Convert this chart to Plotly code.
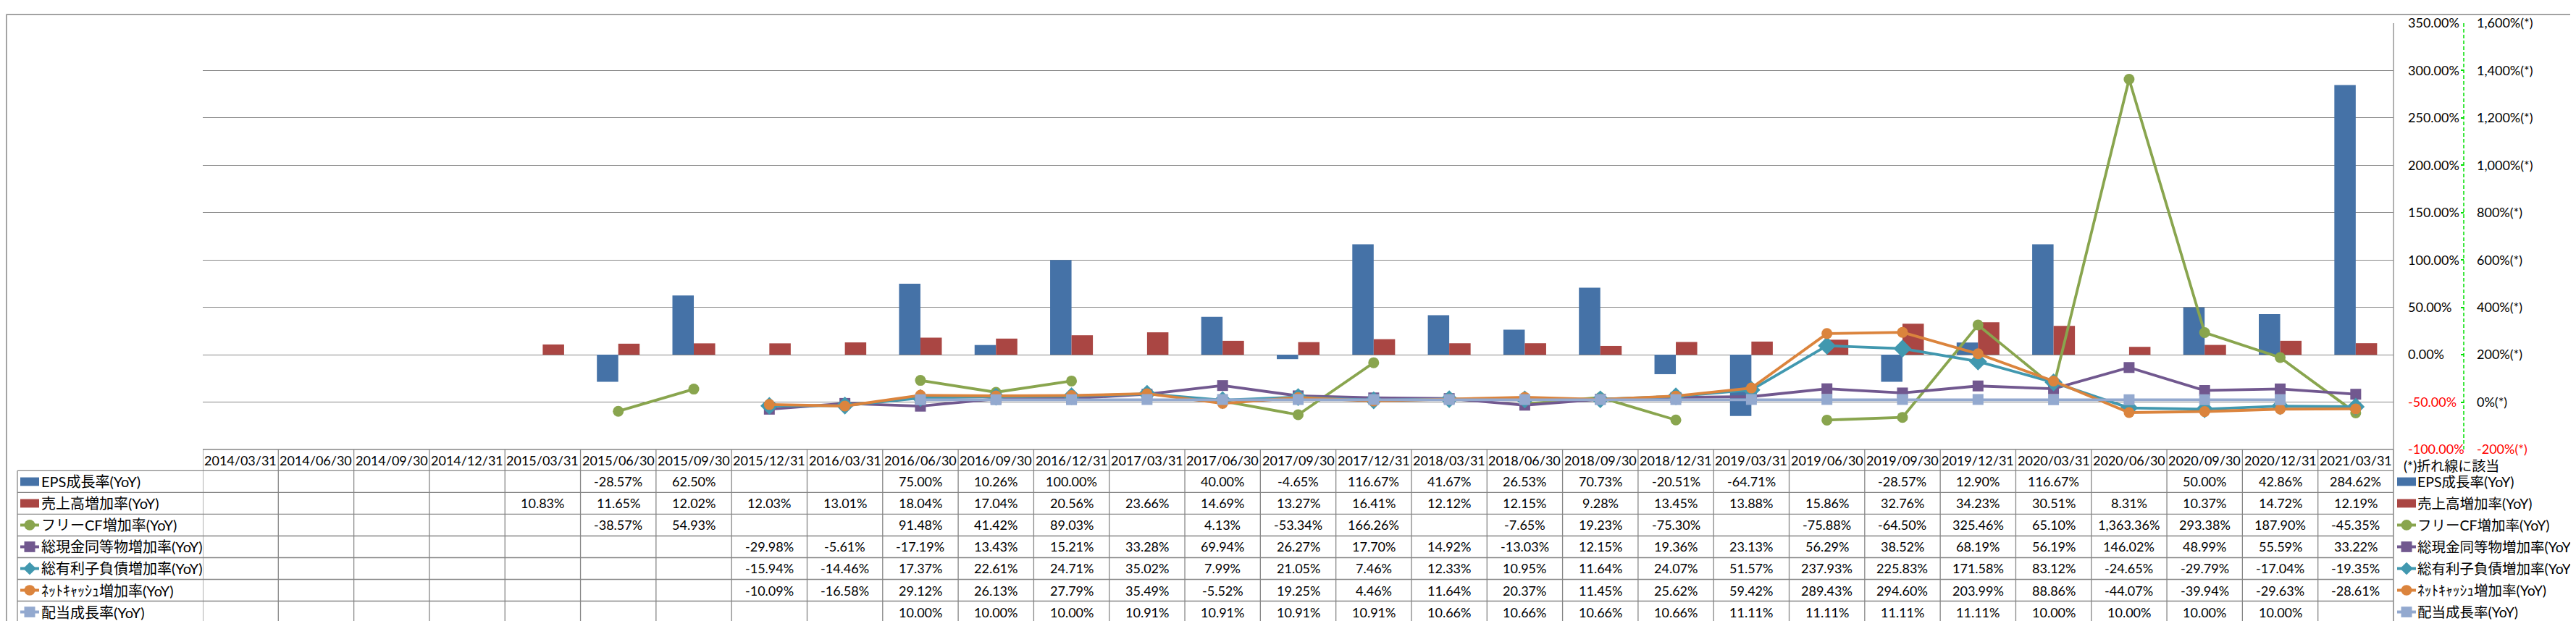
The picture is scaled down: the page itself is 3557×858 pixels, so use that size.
import plotly.graph_objects as go

categories = ["2014/03/31", "2014/06/30", "2014/09/30", "2014/12/31",
              "2015/03/31", "2015/06/30", "2015/09/30", "2015/12/31",
              "2016/03/31", "2016/06/30", "2016/09/30", "2016/12/31",
              "2017/03/31", "2017/06/30", "2017/09/30", "2017/12/31",
              "2018/03/31", "2018/06/30", "2018/09/30", "2018/12/31",
              "2019/03/31", "2019/06/30", "2019/09/30", "2019/12/31",
              "2020/03/31", "2020/06/30", "2020/09/30", "2020/12/31",
              "2021/03/31"]

eps = [None, None, None, None, None, -28.57, 62.50, None, None, 75.00, 10.26, 100.00,
       None, 40.00, -4.65, 116.67, 41.67, 26.53, 70.73, -20.51, -64.71, None,
       -28.57, 12.90, 116.67, None, 50.00, 42.86, 284.62]
sales = [None, None, None, None, 10.83, 11.65, 12.02, 12.03, 13.01, 18.04, 17.04, 20.56,
         23.66, 14.69, 13.27, 16.41, 12.12, 12.15, 9.28, 13.45, 13.88, 15.86,
         32.76, 34.23, 30.51, 8.31, 10.37, 14.72, 12.19]
fcf = [None, None, None, None, None, -38.57, 54.93, None, None, 91.48, 41.42, 89.03,
       None, 4.13, -53.34, 166.26, None, -7.65, 19.23, -75.30, None, -75.88,
       -64.50, 325.46, 65.10, 1363.36, 293.38, 187.90, -45.35]
cash = [None, None, None, None, None, None, None, -29.98, -5.61, -17.19, 13.43, 15.21,
        33.28, 69.94, 26.27, 17.70, 14.92, -13.03, 12.15, 19.36, 23.13, 56.29,
        38.52, 68.19, 56.19, 146.02, 48.99, 55.59, 33.22]
debt = [None, None, None, None, None, None, None, -15.94, -14.46, 17.37, 22.61, 24.71,
        35.02, 7.99, 21.05, 7.46, 12.33, 10.95, 11.64, 24.07, 51.57, 237.93,
        225.83, 171.58, 83.12, -24.65, -29.79, -17.04, -19.35]
netcash = [None, None, None, None, None, None, None, -10.09, -16.58, 29.12, 26.13, 27.79,
           35.49, -5.52, 19.25, 4.46, 11.64, 20.37, 11.45, 25.62, 59.42, 289.43,
           294.60, 203.99, 88.86, -44.07, -39.94, -29.63, -28.61]
dividend = [None, None, None, None, None, None, None, None, None, 10.00, 10.00, 10.00,
            10.91, 10.91, 10.91, 10.91, 10.66, 10.66, 10.66, 10.66, 11.11, 11.11,
            11.11, 11.11, 10.00, 10.00, 10.00, 10.00, None]

series_names = ["EPS成長率(YoY)", "売上高増加率(YoY)", "フリーCF増加率(YoY)",
                "総現金同等物増加率(YoY)", "総有利子負債増加率(YoY)",
                "ﾈｯﾄｷｬｯｼｭ増加率(YoY)", "配当成長率(YoY)"]
series_values = [eps, sales, fcf, cash, debt, netcash, dividend]
series_colors = ["#4572A7", "#AA4643", "#89A54E", "#71588F", "#4198AF", "#DB843D", "#93A9CF"]
series_kinds = ["bar", "bar", "circle", "square", "diamond", "circle", "square"]

primary_ticks = [-100, -50, 0, 50, 100, 150, 200, 250, 300, 350]
secondary_ticks = [-200, 0, 200, 400, 600, 800, 1000, 1200, 1400, 1600]
note_text = "(*)折れ線に該当"

# ---------------- layout geometry (pixels) ----------------
W, H = 3557, 858
PL, PR, PT, PB = 272, 3297, 13, 613
PAPER_R = 3400
PW = PAPER_R - PL
PH = PB - PT
SEC_AXIS_X = 3394
ROW_TOP = 643
ROW_H = (857 - ROW_TOP) / 7.0
FONT = "Lato, 'Noto Sans CJK JP', sans-serif"
GRID = "#868686"


def px(X):
    return (X - PL) / PW


def py(Y):
    return (PB - Y) / PH


fig = go.Figure()

# bars (primary axis)
for name, vals, col, kind in zip(series_names, series_values, series_colors, series_kinds):
    if kind == "bar":
        fig.add_trace(go.Bar(x=categories, y=vals, name=name, marker_color=col,
                             marker_line_width=0, yaxis="y", showlegend=False))

# lines (secondary axis)
msize = {"circle": 15, "square": 15, "diamond": 19}
for name, vals, col, kind in zip(series_names, series_values, series_colors, series_kinds):
    if kind != "bar":
        fig.add_trace(go.Scatter(x=categories, y=vals, name=name, yaxis="y2",
                                 mode="lines+markers", connectgaps=False,
                                 line=dict(color=col, width=3.8),
                                 marker=dict(symbol=kind, size=msize[kind], color=col),
                                 showlegend=False))

shapes = []
annotations = []


def pline(x0, y0, x1, y1, color=GRID, width=1.3, dash=None):
    d = dict(type="line", xref="paper", yref="paper", x0=px(x0), x1=px(x1),
             y0=py(y0), y1=py(y1), line=dict(color=color, width=width))
    if dash:
        d["line"]["dash"] = dash
    shapes.append(d)


def key(x0, yc, kind, color):
    w = 26
    if kind == "bar":
        shapes.append(dict(type="rect", xref="paper", yref="paper",
                           x0=px(x0), x1=px(x0 + w), y0=py(yc + 6), y1=py(yc - 6),
                           fillcolor=color, line=dict(width=0)))
        return
    shapes.append(dict(type="line", xref="paper", yref="paper",
                       x0=px(x0), x1=px(x0 + w), y0=py(yc), y1=py(yc),
                       line=dict(color=color, width=4)))
    xc = x0 + w / 2
    r = 7.5
    if kind == "circle":
        shapes.append(dict(type="circle", xref="paper", yref="paper",
                           x0=px(xc - r), x1=px(xc + r), y0=py(yc + r), y1=py(yc - r),
                           fillcolor=color, line=dict(width=0)))
    elif kind == "square":
        shapes.append(dict(type="rect", xref="paper", yref="paper",
                           x0=px(xc - r), x1=px(xc + r), y0=py(yc + r), y1=py(yc - r),
                           fillcolor=color, line=dict(width=0)))
    else:
        r = 9
        path = "M {a},{b} L {c},{d} L {a},{e} L {f},{d} Z".format(
            a=px(xc), b=py(yc - r), c=px(xc + r), d=py(yc), e=py(yc + r), f=px(xc - r))
        shapes.append(dict(type="path", xref="paper", yref="paper", path=path,
                           fillcolor=color, line=dict(width=0)))


# ---------------- data table ----------------
n = len(categories)
pline(PL, PB, PR, PB)
for k in range(8):
    Y = ROW_TOP + k * ROW_H
    pline(16, Y, PR, Y)
pline(16, ROW_TOP, 16, 857)
for i in range(n + 1):
    shapes.append(dict(type="line", xref="x", yref="paper", x0=i - 0.5, x1=i - 0.5,
                       y0=py(PB), y1=py(857), line=dict(color=GRID, width=1.3)))
pline(PR, PT, PR, 857)

for c in categories:
    annotations.append(dict(x=c, xref="x", y=py(PB + 15.5), yref="paper", text=c,
                            showarrow=False, font=dict(family=FONT, size=18, color="#000"),
                            xanchor="center", yanchor="middle"))

ROW_LABEL_SIZE = 20
LEGEND_SIZE = 19.5
for r_i, (name, vals, col, kind) in enumerate(zip(series_names, series_values,
                                                   series_colors, series_kinds)):
    yc = ROW_TOP + (r_i + 0.5) * ROW_H
    for c, v in zip(categories, vals):
        if v is None:
            continue
        annotations.append(dict(x=c, xref="x", y=py(yc), yref="paper",
                                text=f"{v:,.2f}%", showarrow=False,
                                font=dict(family=FONT, size=18, color="#000"),
                                xanchor="center", yanchor="middle"))
    key(20, yc, kind, col)
    annotations.append(dict(x=px(47), xref="paper", y=py(yc), yref="paper", text=name,
                            showarrow=False,
                            font=dict(family=FONT, size=ROW_LABEL_SIZE, color="#000"),
                            xanchor="left", yanchor="middle"))
    key(3302, yc, kind, col)
    annotations.append(dict(x=px(3328), xref="paper", y=py(yc), yref="paper", text=name,
                            showarrow=False,
                            font=dict(family=FONT, size=LEGEND_SIZE, color="#000"),
                            xanchor="left", yanchor="middle"))

annotations.append(dict(x=px(3309), xref="paper", y=py(636), yref="paper", text=note_text,
                        showarrow=False, font=dict(family=FONT, size=19, color="#000"),
                        xanchor="left", yanchor="middle"))

pline(SEC_AXIS_X, PT, SEC_AXIS_X, PB, color="#00E000", width=1.5, dash="5px,3px")

shapes.append(dict(type="rect", xref="paper", yref="paper",
                   x0=px(1), x1=px(W - 1), y0=py(H - 1), y1=py(1),
                   line=dict(color=GRID, width=1.5), fillcolor="rgba(0,0,0,0)"))


def red(t, v):
    return f"<span style='color:#FF0000'>{t}</span>" if v < 0 else t


fig.update_layout(
    width=W, height=H,
    margin=dict(l=PL, r=W - PAPER_R, t=PT, b=H - PB, pad=0),
    paper_bgcolor="white", plot_bgcolor="white",
    barmode="group", bargap=0.434, bargroupgap=0,
    showlegend=False,
    font=dict(family=FONT, size=18, color="#000"),
    xaxis=dict(type="category", categoryorder="array", categoryarray=categories,
               domain=[0, (PR - PL) / PW], range=[-0.5, n - 0.5],
               showticklabels=False, showgrid=False, zeroline=False, showline=False,
               ticks=""),
    yaxis=dict(side="right", anchor="x", range=[-100, 350],
               tickvals=primary_ticks,
               ticktext=[red(f"{v:.2f}%", v) for v in primary_ticks],
               showgrid=True, gridcolor=GRID, gridwidth=1.3, zeroline=False,
               showline=False, ticks="", ticklabelstandoff=19,
               tickfont=dict(family=FONT, size=18, color="#000")),
    yaxis2=dict(overlaying="y", side="right", anchor="free", position=px(SEC_AXIS_X),
                range=[-200, 1600], tickvals=secondary_ticks,
                ticktext=[red(f"{v:,}%(*)", v) for v in secondary_ticks],
                showgrid=False, zeroline=False, showline=False,
                ticks="inside", ticklen=4, tickcolor="#00E000", tickwidth=1.5,
                ticklabelstandoff=17,
                tickfont=dict(family=FONT, size=18, color="#000")),
    shapes=shapes,
    annotations=annotations,
)

fig.write_html("out.html", config={"displayModeBar": False})
